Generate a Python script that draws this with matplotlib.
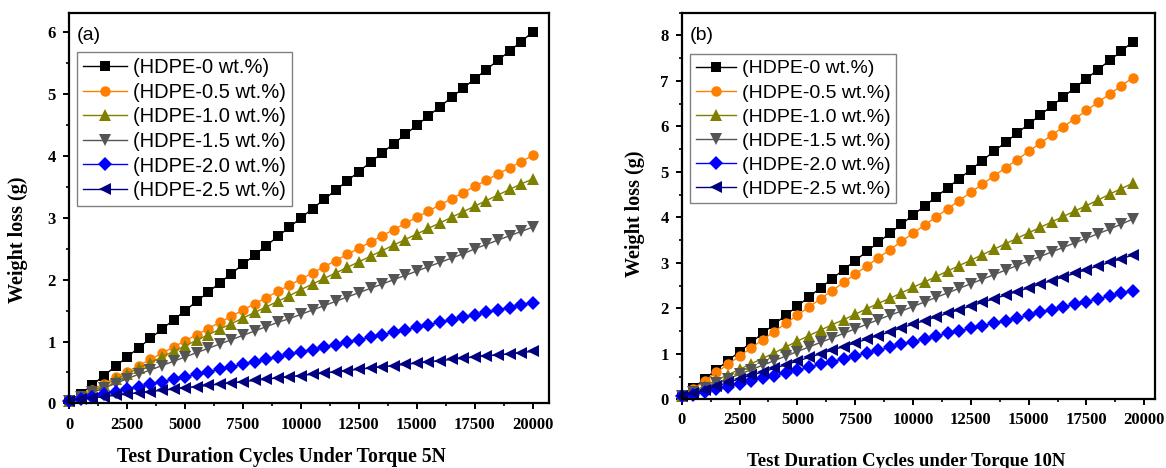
import matplotlib
matplotlib.use("Agg")
import matplotlib.pyplot as plt
from matplotlib.ticker import MultipleLocator

# ---------------- data ----------------
labels = ["(HDPE-0 wt.%)", "(HDPE-0.5 wt.%)", "(HDPE-1.0 wt.%)",
          "(HDPE-1.5 wt.%)", "(HDPE-2.0 wt.%)", "(HDPE-2.5 wt.%)"]

cycles_a = list(range(0, 20001, 500))
cycles_b = list(range(0, 19501, 500))

a_hdpe0 = [0.05, 0.15, 0.30, 0.45, 0.60, 0.75, 0.90, 1.05, 1.20, 1.35, 1.50,
           1.65, 1.80, 1.95, 2.10, 2.25, 2.40, 2.55, 2.70, 2.85, 3.00,
           3.15, 3.30, 3.45, 3.60, 3.75, 3.90, 4.05, 4.20, 4.35, 4.50,
           4.65, 4.80, 4.95, 5.10, 5.25, 5.40, 5.55, 5.70, 5.85, 6.01]
a_hdpe05 = [0.05, 0.12, 0.22, 0.32, 0.42, 0.51, 0.61, 0.71, 0.81, 0.91, 1.01,
            1.11, 1.21, 1.31, 1.41, 1.51, 1.61, 1.71, 1.81, 1.91, 2.01,
            2.11, 2.21, 2.31, 2.41, 2.51, 2.61, 2.71, 2.81, 2.91, 3.01,
            3.11, 3.21, 3.31, 3.41, 3.51, 3.61, 3.71, 3.81, 3.91, 4.01]
a_hdpe10 = [0.04, 0.11, 0.20, 0.29, 0.39, 0.48, 0.57, 0.66, 0.75, 0.84, 0.93,
            1.02, 1.11, 1.20, 1.29, 1.38, 1.47, 1.56, 1.65, 1.74, 1.84,
            1.93, 2.02, 2.11, 2.20, 2.29, 2.38, 2.47, 2.56, 2.65, 2.74,
            2.83, 2.92, 3.01, 3.10, 3.19, 3.28, 3.37, 3.46, 3.55, 3.63]
a_hdpe15 = [0.04, 0.10, 0.18, 0.25, 0.32, 0.40, 0.47, 0.54, 0.61, 0.68, 0.75,
            0.82, 0.89, 0.96, 1.03, 1.10, 1.17, 1.24, 1.31, 1.37, 1.44,
            1.51, 1.58, 1.65, 1.72, 1.79, 1.86, 1.93, 2.00, 2.07, 2.14,
            2.21, 2.28, 2.35, 2.42, 2.50, 2.57, 2.64, 2.71, 2.78, 2.85]
a_hdpe20 = [0.04, 0.07, 0.11, 0.15, 0.19, 0.23, 0.27, 0.31, 0.35, 0.39, 0.43,
            0.47, 0.51, 0.55, 0.59, 0.63, 0.67, 0.71, 0.75, 0.79, 0.83,
            0.87, 0.91, 0.95, 0.99, 1.03, 1.07, 1.11, 1.15, 1.19, 1.23,
            1.27, 1.31, 1.35, 1.39, 1.43, 1.47, 1.51, 1.55, 1.59, 1.63]
a_hdpe25 = [0.04, 0.07, 0.09, 0.11, 0.13, 0.15, 0.17, 0.19, 0.21, 0.23, 0.25,
            0.27, 0.29, 0.31, 0.33, 0.35, 0.37, 0.39, 0.41, 0.43, 0.45,
            0.47, 0.49, 0.51, 0.53, 0.55, 0.57, 0.59, 0.61, 0.63, 0.65,
            0.67, 0.69, 0.71, 0.73, 0.75, 0.77, 0.78, 0.80, 0.82, 0.84]

b_hdpe0 = [0.07, 0.25, 0.45, 0.65, 0.85, 1.05, 1.25, 1.45, 1.65, 1.85, 2.05,
           2.25, 2.45, 2.65, 2.85, 3.05, 3.25, 3.45, 3.65, 3.85, 4.05,
           4.25, 4.45, 4.65, 4.85, 5.05, 5.25, 5.45, 5.65, 5.85, 6.05,
           6.25, 6.45, 6.65, 6.85, 7.05, 7.25, 7.45, 7.65, 7.86]
b_hdpe05 = [0.07, 0.22, 0.41, 0.59, 0.77, 0.95, 1.13, 1.31, 1.49, 1.67, 1.85,
            2.03, 2.21, 2.39, 2.57, 2.75, 2.93, 3.11, 3.29, 3.47, 3.65,
            3.83, 4.01, 4.19, 4.37, 4.55, 4.73, 4.91, 5.09, 5.27, 5.45,
            5.63, 5.81, 5.99, 6.17, 6.35, 6.53, 6.71, 6.89, 7.07]
b_hdpe10 = [0.07, 0.17, 0.30, 0.42, 0.54, 0.66, 0.78, 0.90, 1.02, 1.15, 1.28,
            1.40, 1.52, 1.64, 1.75, 1.87, 1.99, 2.11, 2.22, 2.34, 2.46,
            2.58, 2.70, 2.82, 2.94, 3.06, 3.18, 3.30, 3.42, 3.54, 3.66,
            3.78, 3.90, 4.02, 4.14, 4.26, 4.38, 4.51, 4.63, 4.75]
b_hdpe15 = [0.07, 0.15, 0.25, 0.35, 0.45, 0.55, 0.65, 0.75, 0.85, 0.95, 1.05,
            1.15, 1.25, 1.35, 1.45, 1.55, 1.65, 1.75, 1.85, 1.94, 2.04,
            2.14, 2.24, 2.34, 2.44, 2.54, 2.64, 2.74, 2.84, 2.94, 3.04,
            3.14, 3.24, 3.34, 3.44, 3.54, 3.64, 3.74, 3.85, 3.96]
b_hdpe20 = [0.07, 0.10, 0.16, 0.22, 0.28, 0.34, 0.40, 0.46, 0.52, 0.58, 0.64,
            0.70, 0.77, 0.83, 0.89, 0.96, 1.02, 1.08, 1.14, 1.21, 1.27,
            1.33, 1.39, 1.45, 1.50, 1.56, 1.62, 1.67, 1.73, 1.79, 1.85,
            1.91, 1.97, 2.03, 2.09, 2.15, 2.21, 2.27, 2.33, 2.39]
b_hdpe25 = [0.07, 0.13, 0.21, 0.29, 0.37, 0.45, 0.53, 0.60, 0.68, 0.76, 0.84,
            0.92, 1.00, 1.08, 1.16, 1.24, 1.32, 1.40, 1.48, 1.57, 1.65,
            1.73, 1.81, 1.89, 1.97, 2.05, 2.13, 2.21, 2.29, 2.37, 2.45,
            2.53, 2.61, 2.69, 2.77, 2.85, 2.93, 3.01, 3.09, 3.17]

series_a = [a_hdpe0, a_hdpe05, a_hdpe10, a_hdpe15, a_hdpe20, a_hdpe25]
series_b = [b_hdpe0, b_hdpe05, b_hdpe10, b_hdpe15, b_hdpe20, b_hdpe25]

# ---------------- styles ----------------
colors = ["#000000", "#FF8000", "#808000", "#555555", "#0000FF", "#000080"]
markers = ["s", "o", "^", "v", "D", "<"]
msizes = [6.5, 7.5, 8.5, 8.5, 7.0, 8.5]

serif = ["Liberation Serif", "DejaVu Serif"]
sans = ["Liberation Sans", "DejaVu Sans"]

fig = plt.figure(figsize=(11.66, 4.68), dpi=100)
ax_a = fig.add_axes([0.0594, 0.1382, 0.4114, 0.8334])
ax_b = fig.add_axes([0.5847, 0.1468, 0.4062, 0.8261])


def style_axes(ax, xlim, ylim, xlabel, xlab_size, tag, xlab_xy, ylab_xy,
               tag_y, leg_xy, leg_size, leg_spacing, leg_handle):
    ax.set_xlim(*xlim)
    ax.set_ylim(*ylim)
    ax.xaxis.set_major_locator(MultipleLocator(2500))
    ax.xaxis.set_minor_locator(MultipleLocator(1250))
    ax.yaxis.set_major_locator(MultipleLocator(1))
    ax.yaxis.set_minor_locator(MultipleLocator(0.5))
    for sp in ax.spines.values():
        sp.set_linewidth(1.6)
    ax.tick_params(which="major", direction="out", length=4.5, width=1.4,
                   pad=5, top=False, right=False)
    ax.tick_params(which="minor", direction="out", length=2.5, width=1.2,
                   top=False, right=False)
    for lab in ax.get_xticklabels() + ax.get_yticklabels():
        lab.set_fontfamily(serif)
        lab.set_fontweight("bold")
        lab.set_fontsize(12)
    ax.set_xlabel(xlabel, family=serif, fontweight="bold", fontsize=xlab_size)
    ax.xaxis.set_label_coords(*xlab_xy)
    ax.set_ylabel("Weight loss (g)", family=serif, fontweight="bold",
                  fontsize=14.5)
    ax.yaxis.set_label_coords(*ylab_xy)
    ax.text(0.016, tag_y, tag, transform=ax.transAxes, family=sans,
            fontsize=14, va="center", ha="left")
    leg = ax.legend(loc="upper left", bbox_to_anchor=leg_xy,
                    prop={"family": sans, "size": leg_size}, frameon=True,
                    fancybox=False, edgecolor="#808080", framealpha=1,
                    handlelength=leg_handle, handletextpad=0.3,
                    labelspacing=leg_spacing, borderpad=0.3,
                    borderaxespad=0.0)
    leg.get_frame().set_linewidth(1.0)


for ax, xs, series in ((ax_a, cycles_a, series_a), (ax_b, cycles_b, series_b)):
    for ys, c, m, ms, lab in zip(series, colors, markers, msizes, labels):
        ax.plot(xs, ys, color=c, marker=m, markersize=ms, linewidth=1.0,
                markeredgewidth=0, label=lab, clip_on=False)

style_axes(ax_a, (0, 20700), (0, 6.31),
           "Test Duration Cycles Under Torque 5N", 14.2, "(a)",
           (0.443, -0.113), (-0.086, 0.419), 0.944, (0.016, 0.901),
           14.5, 0.28, 2.2)
style_axes(ax_b, (0, 20480), (0, 8.5),
           "Test Duration Cycles under Torque 10N", 13.5, "(b)",
           (0.474, -0.139), (-0.0775, 0.479), 0.942, (0.0175, 0.893),
           14.0, 0.33, 2.05)

fig.savefig("out.png", dpi=100)
